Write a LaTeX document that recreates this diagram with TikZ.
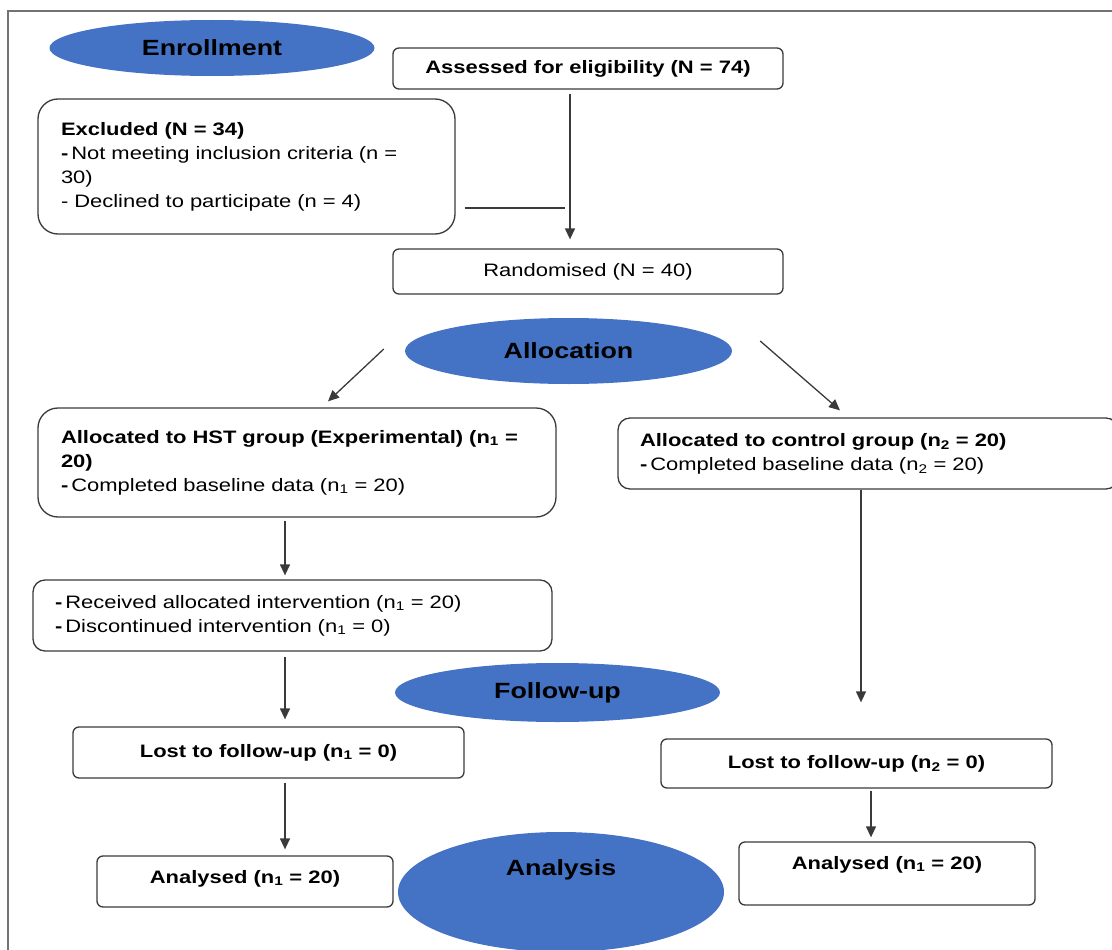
\documentclass[tikz,border=0pt]{standalone}
\usepackage{fontspec}
\setmainfont{Liberation Sans}[FakeStretch=1.22]
\usetikzlibrary{shapes}
\usetikzlibrary{arrows.meta}
\definecolor{phaseblue}{HTML}{4472C4}
\definecolor{edgegray}{HTML}{3A3A3A}

\begin{document}
\begin{tikzpicture}[x=1pt,y=-1pt,every node/.style={font=\fontsize{18}{24}\selectfont,text=black},
						phasefont/.style={font=\fontsize{22}{26}\selectfont\bfseries},
						phase/.style={ellipse,fill=phaseblue,draw=none,inner sep=0pt,phasefont},
						box/.style={rectangle,rounded corners=6pt,draw=edgegray,line width=1.3pt,inner sep=0pt},
						boldbox/.style={box,font=\fontsize{18}{24}\selectfont\bfseries},
						bigbox/.style={box,rounded corners=20pt,align=left,inner xsep=23pt},
						midbox/.style={box,rounded corners=12pt,align=left,inner xsep=22pt},
						arr/.style={draw=edgegray,line width=1.3pt,-{Triangle[length=11pt,width=10pt]}},
						conn/.style={draw=edgegray,line width=1.3pt},
						frame/.style={draw=black!55,line width=2pt}
						]
						\useasboundingbox (0,0) rectangle (1112,950);
						\draw[frame] (8,952) -- (8,11) -- (1114,11);
						\node[phase,minimum width=325pt,minimum height=56pt] (enrol) at (212,48) {Enrollment};
						\node[boldbox,minimum width=390pt,minimum height=41pt] (assess) at (588,68.5) {Assessed for eligibility (N = 74)};
						\node[bigbox,minimum height=135pt,text width=371pt] (excl) at (246.5,166.5) {\textbf{Excluded (N = 34)}\\\textbf{-}\,Not meeting inclusion criteria (n =\\30)\\- Declined to participate (n = 4)};
						\node[box,minimum width=390pt,minimum height=45pt] (rand) at (588,271.5) {Randomised (N = 40)};
						\node[phase,minimum width=327pt,minimum height=66pt] (alloc) at (568.5,351) {Allocation};
						\node[bigbox,minimum height=109pt,text width=472pt] (hst) at (297,462.5) {\textbf{Allocated to HST group (Experimental) (n\textsubscript{1} =}\\\textbf{20)}\\\textbf{-}\,Completed baseline data (n\textsubscript{1} = 20)};
						\node[midbox,minimum height=71pt,text width=456pt] (ctrl) at (868,453.5) {\textbf{Allocated to control group (n\textsubscript{2} = 20)}\\\textbf{-}\,Completed baseline data (n\textsubscript{2} = 20)};
						\node[midbox,minimum height=71pt,text width=475pt] (recv) at (292.5,615.5) {\textbf{-}\,Received allocated intervention (n\textsubscript{1} = 20)\\\textbf{-}\,Discontinued intervention (n\textsubscript{1} = 0)};
						\node[phase,minimum width=325pt,minimum height=59pt] (follow) at (557.5,692.5) {Follow-up};
						\node[boldbox,minimum width=391pt,minimum height=51pt] (lost1) at (268.5,752.5) {Lost to follow-up (n\textsubscript{1} = 0)};
						\node[boldbox,minimum width=391pt,minimum height=49pt] (lost2) at (856.5,763.5) {Lost to follow-up (n\textsubscript{2} = 0)};
						\node[boldbox,minimum width=296pt,minimum height=51pt,text depth=10pt] (ana1) at (245,881.5) {Analysed (n\textsubscript{1} = 20)};
						\node[phase,minimum width=326pt,minimum height=120pt,label={[phasefont,yshift=22pt]center:Analysis}] (analysis) at (561,892) {};
						\node[boldbox,minimum width=296pt,minimum height=63pt,text depth=22pt] (ana2) at (887,873.5) {Analysed (n\textsubscript{1} = 20)};
						\coordinate (join) at (565,208);
						\coordinate (spine) at (285,0);
						\coordinate (rspine) at (861,0);
						\coordinate (rfoot) at (871,0);
						\draw[arr,shorten <=4pt,shorten >=9pt] ([xshift=-18pt]assess.south) -- ([xshift=-18pt]rand.north);
						\draw[conn,shorten <=9pt] (excl.east |- join) -- (join);
						\draw[arr] ([xshift=-21pt,yshift=2pt]alloc.west) -- ([xshift=31pt,yshift=6pt]hst.north);
						\draw[arr] ([xshift=28pt,yshift=10pt]alloc.east) -- ([xshift=-28pt,yshift=7pt]ctrl.north);
						\draw[arr,shorten <=3pt,shorten >=4pt] (hst.south -| spine) -- (recv.north -| spine);
						\draw[arr,shorten <=5pt,shorten >=7pt] (recv.south -| spine) -- (lost1.north -| spine);
						\draw[arr,shorten <=4pt,shorten >=6pt] (lost1.south -| spine) -- (ana1.north -| spine);
						\draw[arr,shorten >=36pt] (ctrl.south -| rspine) -- (lost2.north -| rspine);
						\draw[arr,shorten <=2pt,shorten >=4pt] (lost2.south -| rfoot) -- (ana2.north -| rfoot);
						\end{tikzpicture}
\end{document}
